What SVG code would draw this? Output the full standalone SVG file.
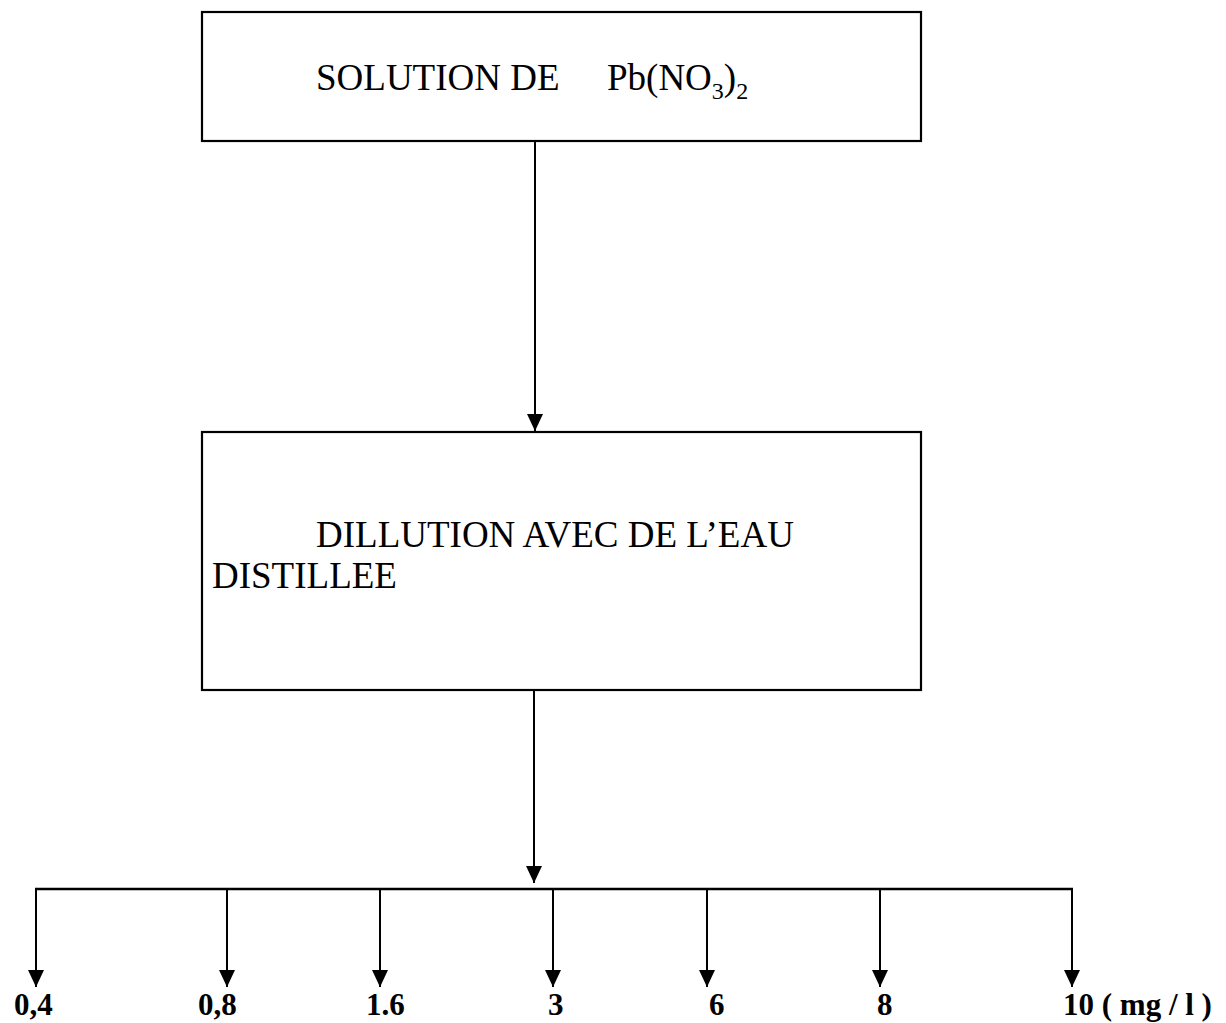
<svg xmlns="http://www.w3.org/2000/svg" width="1226" height="1023" viewBox="0 0 1226 1023">
<style>
.box{fill:#fff;stroke:#000;stroke-width:2.2}
.t{font-family:"Liberation Serif","Times New Roman",serif;font-size:37px;fill:#000}
.sub{font-size:24px}
.lbl{font-family:"Liberation Serif","Times New Roman",serif;font-size:31px;font-weight:bold;fill:#000}
.c{stroke:#000;stroke-width:2;fill:none}
.h{stroke:#000;stroke-width:2.4;fill:none}
</style>
<defs>
<marker id="ah" markerUnits="userSpaceOnUse" markerWidth="17" markerHeight="16" refX="17" refY="8" orient="auto">
<path d="M0,0 L17,8 L0,16 z" fill="#000"/>
</marker>
</defs>
<rect width="1226" height="1023" fill="#fff"/>
<g id="node-solution">
<rect class="box" x="202" y="12" width="719" height="129"/>
<text class="t" x="316" y="90">SOLUTION DE</text>
<text class="t" x="607" y="90">Pb(NO<tspan class="sub" dy="9">3</tspan><tspan dy="-9">)</tspan><tspan class="sub" dy="9">2</tspan></text>
</g>
<g id="node-dilution">
<rect class="box" x="202" y="432" width="719" height="258"/>
<text class="t" x="316" y="547">DILLUTION AVEC DE L’EAU</text>
<text class="t" x="212" y="588">DISTILLEE</text>
</g>
<g id="connectors">
<line class="c" x1="535" y1="142" x2="535" y2="431" marker-end="url(#ah)"/>
<line class="c" x1="534" y1="691" x2="534" y2="883" marker-end="url(#ah)"/>
<line class="h" x1="35" y1="889" x2="1073" y2="889"/>
<line class="c" x1="36" y1="889" x2="36" y2="987" marker-end="url(#ah)"/>
<line class="c" x1="227" y1="889" x2="227" y2="987" marker-end="url(#ah)"/>
<line class="c" x1="380" y1="889" x2="380" y2="987" marker-end="url(#ah)"/>
<line class="c" x1="553" y1="889" x2="553" y2="987" marker-end="url(#ah)"/>
<line class="c" x1="707" y1="889" x2="707" y2="987" marker-end="url(#ah)"/>
<line class="c" x1="880" y1="889" x2="880" y2="987" marker-end="url(#ah)"/>
<line class="c" x1="1072" y1="889" x2="1072" y2="987" marker-end="url(#ah)"/>
</g>
<g id="labels">
<text class="lbl" x="14" y="1015">0,4</text>
<text class="lbl" x="198" y="1015">0,8</text>
<text class="lbl" x="366" y="1015">1.6</text>
<text class="lbl" x="548" y="1015">3</text>
<text class="lbl" x="709" y="1015">6</text>
<text class="lbl" x="877" y="1015">8</text>
<text class="lbl" x="1063" y="1015">10 ( mg / l )</text>
</g>
</svg>
